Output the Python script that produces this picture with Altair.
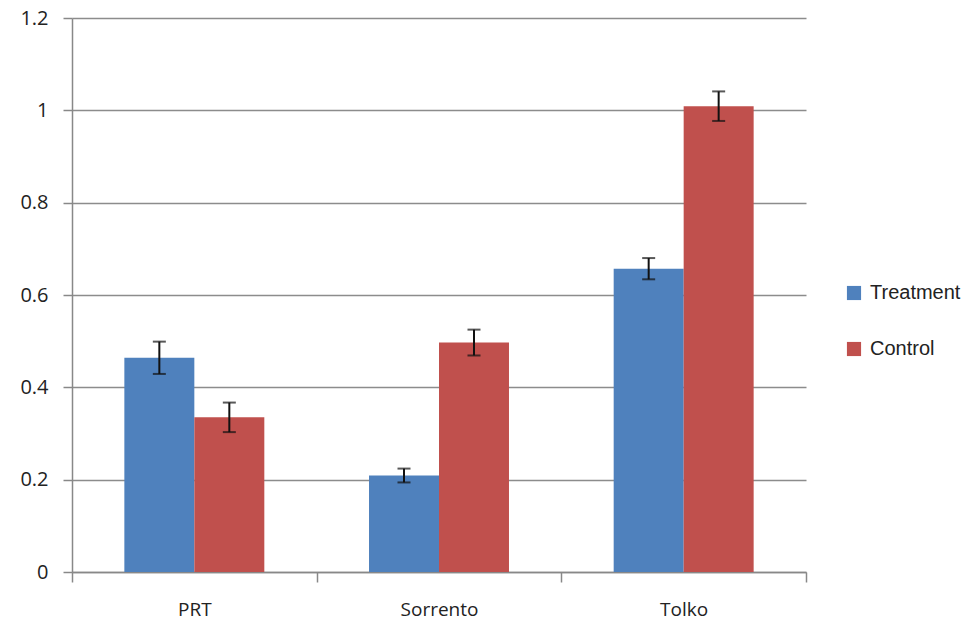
import altair as alt
import pandas as pd

categories = ["PRT", "Sorrento", "Tolko"]
series = ["Treatment", "Control"]
treatment = [0.464, 0.209, 0.657]
control = [0.335, 0.497, 1.009]
treatment_err = [0.035, 0.015, 0.023]
control_err = [0.032, 0.028, 0.032]

rows = []
for i, c in enumerate(categories):
    for s, vals, errs in (("Treatment", treatment, treatment_err), ("Control", control, control_err)):
        rows.append({"cat": c, "series": s, "value": vals[i],
                     "lo": vals[i] - errs[i], "hi": vals[i] + errs[i]})
df = pd.DataFrame(rows)

font_ax = "Open Sans"
xscale = alt.Scale(paddingInner=0, paddingOuter=0)
xenc = alt.X("cat:N", sort=categories, title=None, scale=xscale,
             axis=alt.Axis(labelAngle=0, tickBand="extent", tickSize=10,
                           labelFontSize=19, labelPadding=18, grid=False))
xoff = alt.XOffset("series:N", sort=series,
                   scale=alt.Scale(paddingInner=0, paddingOuter=0.748))

bars = alt.Chart(df).mark_bar().encode(
    x=xenc,
    xOffset=xoff,
    y=alt.Y("value:Q", title=None,
            scale=alt.Scale(domain=[0, 1.2]),
            axis=alt.Axis(values=[0, 0.2, 0.4, 0.6, 0.8, 1.0, 1.2],
                          labelExpr="datum.value == 0 ? '0' : format(datum.value, '.1~f')",
                          labelFontSize=20, tickSize=9, labelPadding=15)),
    color=alt.Color("series:N", sort=series,
                    scale=alt.Scale(domain=series, range=["#4F81BD", "#C0504D"]),
                    legend=alt.Legend(title=None, orient="none", legendX=772, legendY=265,
                                      symbolType="square", symbolSize=200,
                                      symbolStrokeWidth=0, labelFont="Liberation Sans",
                                      labelFontSize=20, labelColor="#222",
                                      rowPadding=36, labelOffset=6)),
)

rules = alt.Chart(df).mark_rule(color="#111", strokeWidth=2).encode(
    x=alt.X("cat:N", sort=categories, scale=xscale), xOffset=xoff,
    y="lo:Q", y2="hi:Q")
cap_lo = alt.Chart(df).mark_tick(color="#111", thickness=2, size=13).encode(
    x=alt.X("cat:N", sort=categories, scale=xscale), xOffset=xoff, y="lo:Q")
cap_hi = alt.Chart(df).mark_tick(color="#111", thickness=2, size=13).encode(
    x=alt.X("cat:N", sort=categories, scale=xscale), xOffset=xoff, y="hi:Q")

chart = (bars + rules + cap_lo + cap_hi).properties(
    width=734, height=554,
    autosize=alt.AutoSizeParams(type="none"),
    padding={"left": 64, "top": 10, "right": 161, "bottom": 52},
).configure_view(stroke=None).configure_axis(
    labelFont=font_ax, labelColor="#222", tickColor="#888", tickWidth=1.5,
    domainColor="#888", domainWidth=1.5, gridColor="#8c8c8c", gridWidth=1.5,
    labelFontWeight="normal"
)

chart.save("out.html", embed_options={"renderer": "svg", "actions": False})
